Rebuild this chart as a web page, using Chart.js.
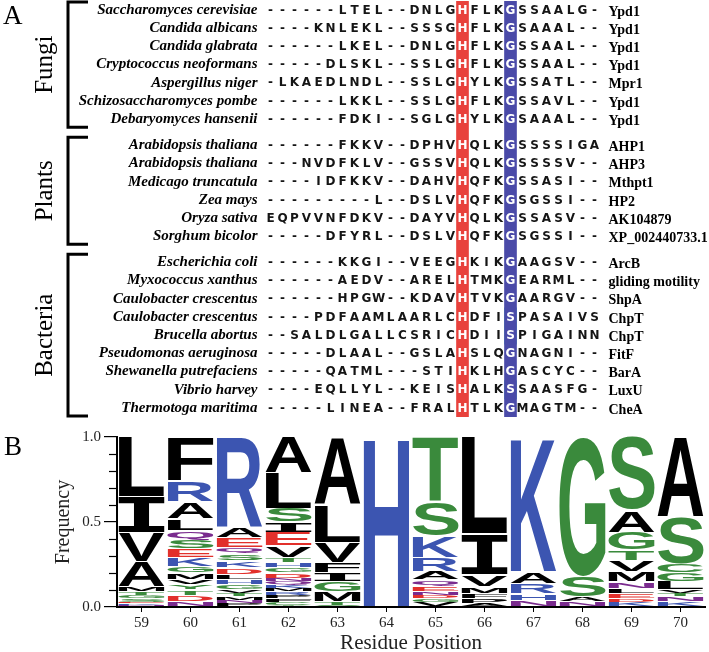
<!DOCTYPE html>
<html>
<head>
<meta charset="utf-8">
<script src="https://cdn.jsdelivr.net/npm/chart.js@4.4.1/dist/chart.umd.min.js"></script>
<style>
  html, body { margin: 0; padding: 0; background: #fff; }
  canvas { display: block; }
</style>
</head>
<body>
<canvas id="alignment" width="709" height="425"></canvas>
<canvas id="logo" width="709" height="227"></canvas>
<script>
// panel A - alignment
var species = [
    'Saccharomyces cerevisiae', 'Candida albicans', 'Candida glabrata', 'Cryptococcus neoformans',
    'Aspergillus niger', 'Schizosaccharomyces pombe', 'Debaryomyces hansenii',
    'Arabidopsis thaliana', 'Arabidopsis thaliana', 'Medicago truncatula', 'Zea mays',
    'Oryza sativa', 'Sorghum bicolor',
    'Escherichia coli', 'Myxococcus xanthus', 'Caulobacter crescentus', 'Caulobacter crescentus',
    'Brucella abortus', 'Pseudomonas aeruginosa', 'Shewanella putrefaciens', 'Vibrio harvey',
    'Thermotoga maritima'
];
var groupNames = ['Fungi', 'Plants', 'Bacteria'];
var groupSizes = [7, 6, 9];
var sequences = [
    '------LTEL--DNLGHFLKGSSAALG-',
    '----KNLEKL--SSSGHFLKGSAAAL--',
    '------LKEL--DNLGHFLKGSSAAL--',
    '-----DLSKL--SSLGHFLKGSSAAL--',
    '-LKAEDLNDL--SSLGHYLKGSSATL--',
    '------LKKL--SSLGHFLKGSSAVL--',
    '------FDKI--SGLGHYLKGSAAAL--',
    '------FKKV--DPHVHQLKGSSSSIGA',
    '---NVDFKLV--GSSVHQLKGSSSSV--',
    '----IDFKKV--DAHVHQFKGSSASI--',
    '---------L--DSLVHQFKGSGSSI--',
    'EQPVVNFDKV--DAYVHQLKGSSASV--',
    '-----DFYRL--DSLVHQFKGSGSSI--',
    '------KKGI--VEEGHKIKGAAGSV--',
    '------AEDV--ARELHTMKGEARML--',
    '------HPGW--KDAVHTVKGAARGV--',
    '----PDFAAMLAARLCHDFISPASAIVS',
    '--SALDLGALLCSRICHDIISPIGAINN',
    '-----DLAAL--GSLAHSLQGNAGNI--',
    '-----QATML---STIHKLHGASCYC--',
    '----EQLLYL--KEISHALKSSAASFG-',
    '-----LINEA--FRALHTLKGMAGTM--'
];
var proteins = [
    'Ypd1', 'Ypd1', 'Ypd1', 'Ypd1', 'Mpr1', 'Ypd1', 'Ypd1',
    'AHP1', 'AHP3', 'Mthpt1', 'HP2', 'AK104879', 'XP_002440733.1',
    'ArcB', 'gliding motility', 'ShpA', 'ChpT', 'ChpT', 'FitF', 'BarA', 'LuxU', 'CheA'
];

// panel B - sequence logo (letters listed top to bottom)
var positions = ['59', '60', '61', '62', '63', '64', '65', '66', '67', '68', '69', '70'];
var logoLetters = [
    'LIVAMTGSEKN',
    'FRALQSEKGMVYTDN',
    'RAEQSKDLHGVTMNP',
    'ALSIEVTHGDNQKMRPFCY',
    'ALVFIGMTS',
    'H',
    'TSKRAQENDGV',
    'LIVMFPA',
    'KARHN',
    'GSAN',
    'SAGTVMNLEDK',
    'ASCGLVTNK'
];
var logoFreqs = [
    [0.35, 0.21, 0.17, 0.15, 0.03, 0.02, 0.02, 0.02, 0.01, 0.01, 0.01],
    [0.26, 0.12, 0.10, 0.07, 0.06, 0.05, 0.05, 0.05, 0.04, 0.04, 0.03, 0.03, 0.03, 0.04, 0.03],
    [0.53, 0.06, 0.06, 0.04, 0.04, 0.04, 0.04, 0.03, 0.03, 0.03, 0.02, 0.02, 0.02, 0.02, 0.02],
    [0.21, 0.21, 0.08, 0.06, 0.08, 0.07, 0.03, 0.03, 0.03, 0.03, 0.02, 0.02, 0.02, 0.02, 0.02, 0.02, 0.02, 0.02, 0.01],
    [0.40, 0.22, 0.12, 0.06, 0.05, 0.06, 0.06, 0.02, 0.01],
    [1.00],
    [0.38, 0.20, 0.13, 0.08, 0.05, 0.04, 0.03, 0.02, 0.02, 0.02, 0.03],
    [0.57, 0.24, 0.07, 0.04, 0.03, 0.03, 0.02],
    [0.79, 0.07, 0.06, 0.04, 0.04],
    [0.82, 0.12, 0.03, 0.03],
    [0.43, 0.13, 0.105, 0.06, 0.065, 0.06, 0.04, 0.03, 0.03, 0.02, 0.03],
    [0.47, 0.28, 0.05, 0.05, 0.05, 0.02, 0.02, 0.03, 0.03]
];

function residueColor(ch) {
    if ('GSTYC'.indexOf(ch) >= 0) return '#3a8a3c';
    if ('NQ'.indexOf(ch) >= 0) return '#7a2b8e';
    if ('KRH'.indexOf(ch) >= 0) return '#3c55b1';
    if ('DE'.indexOf(ch) >= 0) return '#e2302b';
    return '#000000';
}

// ---------- alignment chart ----------
var GAP = 0.43;
var rowGroup = [];
groupSizes.forEach(function (n, g) { for (var i = 0; i < n; i++) rowGroup.push(g); });
var rowY = rowGroup.map(function (g, i) { return i + g * GAP; });
var nCols = sequences[0].length;
var colLabels = [];
for (var c = 0; c < nCols; c++) colLabels.push(String(c));

function allIn(col, set) {
    return sequences.every(function (s) { return set.indexOf(s[col]) >= 0; });
}
var hisCol = colLabels.findIndex(function (l, c) { return allIn(c, 'H'); });
var accCol = colLabels.findIndex(function (l, c) { return allIn(c, 'GS'); });
var yMin = -0.5, yMax = rowY[rowY.length - 1] + 0.5;

var alignSets = [
    { data: colLabels.map(function (l, c) { return c === hisCol ? [yMin, yMax] : null; }), backgroundColor: '#e8413c' },
    { data: colLabels.map(function (l, c) { return c === accCol ? [yMin, yMax] : null; }), backgroundColor: '#4a4aa8' }
];
sequences.forEach(function (s, r) {
    if (s[accCol] === 'S') {
        alignSets.push({
            data: colLabels.map(function (l, c) { return c === accCol ? [rowY[r] - 0.5, rowY[r] + 0.5] : null; }),
            backgroundColor: '#3cb8ba'
        });
    }
});

var alignText = {
    id: 'alignText',
    afterDatasetsDraw: function (chart) {
        var ctx = chart.ctx, xs = chart.scales.x, ys = chart.scales.y, area = chart.chartArea;
        ctx.save();
        ctx.textBaseline = 'middle';
        sequences.forEach(function (seq, r) {
            var y = ys.getPixelForValue(rowY[r]);
            ctx.font = 'bold 12px "DejaVu Sans"';
            ctx.textAlign = 'center';
            for (var c = 0; c < seq.length; c++) {
                ctx.fillStyle = (c === hisCol || c === accCol) ? '#ffffff' : '#151515';
                ctx.fillText(seq[c], xs.getPixelForValue(c), y + 0.5);
            }
            ctx.fillStyle = '#000';
            ctx.font = 'italic bold 15px "Liberation Serif"';
            ctx.textAlign = 'right';
            ctx.fillText(species[r], area.left - 7, y);
            ctx.font = 'bold 14px "Liberation Serif"';
            ctx.textAlign = 'left';
            ctx.fillText(proteins[r], area.right + 8, y + 2);
        });

        // group brackets
        var start = 0;
        ctx.lineWidth = 3;
        ctx.strokeStyle = '#000';
        groupSizes.forEach(function (n, g) {
            var top = ys.getPixelForValue(rowY[start]) - 8;
            var bottom = ys.getPixelForValue(rowY[start + n - 1]) + 8;
            ctx.beginPath();
            ctx.moveTo(88, top);
            ctx.lineTo(68, top);
            ctx.lineTo(68, bottom);
            ctx.lineTo(88, bottom);
            ctx.stroke();
            ctx.save();
            ctx.translate(45, (top + bottom) / 2);
            ctx.rotate(-Math.PI / 2);
            ctx.textAlign = 'center';
            ctx.textBaseline = 'middle';
            ctx.font = '25px "Liberation Serif"';
            ctx.fillText(groupNames[g], 0, 0);
            ctx.restore();
            start += n;
        });

        ctx.textAlign = 'left';
        ctx.textBaseline = 'alphabetic';
        ctx.font = '27px "Liberation Serif"';
        ctx.fillText('A', 3, 24);
        ctx.restore();
    }
};

new Chart(document.getElementById('alignment'), {
    type: 'bar',
    data: { labels: colLabels, datasets: alignSets },
    options: {
        responsive: false,
        animation: false,
        events: [],
        layout: { padding: { left: 264.5, right: 108.5, top: 0.9, bottom: 7.9 } },
        datasets: { bar: { grouped: false, barPercentage: 1, categoryPercentage: 1, borderWidth: 0 } },
        scales: {
            x: { display: false },
            y: { display: false, reverse: true, min: yMin, max: yMax }
        },
        plugins: { legend: { display: false }, tooltip: { enabled: false } }
    },
    plugins: [alignText]
});

// ---------- logo chart ----------
var maxDepth = Math.max.apply(null, logoLetters.map(function (s) { return s.length; }));
var logoSets = [];
for (var r = maxDepth - 1; r >= 0; r--) {
    logoSets.push({
        rank: r,
        data: logoFreqs.map(function (f) { return f[r] || 0; }),
        backgroundColor: 'rgba(0,0,0,0)',
        borderWidth: 0
    });
}

function drawGlyph(ctx, ch, x, y, w, h) {
    ctx.save();
    // serif I so it doesn't turn into a plain block when stretched
    ctx.font = ch === 'I' ? 'bold 100px "DejaVu Sans Mono"' : 'bold 100px "Liberation Sans"';
    var m = ctx.measureText(ch);
    var iw = m.actualBoundingBoxLeft + m.actualBoundingBoxRight;
    var ih = m.actualBoundingBoxAscent + m.actualBoundingBoxDescent;
    var pad = Math.min(0.6, h * 0.1);
    ctx.translate(x, y + pad);
    ctx.scale(w / iw, (h - 2 * pad) / ih);
    ctx.fillStyle = residueColor(ch);
    ctx.textAlign = 'left';
    ctx.textBaseline = 'alphabetic';
    ctx.fillText(ch, m.actualBoundingBoxLeft, m.actualBoundingBoxAscent);
    ctx.restore();
}

var glyphs = {
    id: 'glyphs',
    afterDatasetsDraw: function (chart) {
        var ctx = chart.ctx;
        chart.data.datasets.forEach(function (ds, di) {
            chart.getDatasetMeta(di).data.forEach(function (bar, c) {
                var ch = logoLetters[c][ds.rank];
                if (!ch) return;
                var p = bar.getProps(['x', 'y', 'base', 'width'], true);
                var h = Math.abs(p.base - p.y);
                if (h < 0.6) return;
                drawGlyph(ctx, ch, p.x - p.width / 2, Math.min(p.y, p.base), p.width, h);
            });
        });
    },
    afterDraw: function (chart) {
        var ctx = chart.ctx, ys = chart.scales.y, left = chart.chartArea.left;
        ctx.save();
        ctx.strokeStyle = '#000';
        ctx.lineWidth = 1.2;
        for (var i = 1; i < 10; i++) {
            if (i === 5) continue;
            var y = Math.round(ys.getPixelForValue(i / 10)) + 0.5;
            ctx.beginPath();
            ctx.moveTo(left - 8, y);
            ctx.lineTo(left, y);
            ctx.stroke();
        }
        ctx.fillStyle = '#000';
        ctx.font = '27px "Liberation Serif"';
        ctx.fillText('B', 4, 30);
        ctx.restore();
    }
};

new Chart(document.getElementById('logo'), {
    type: 'bar',
    data: { labels: positions, datasets: logoSets },
    options: {
        responsive: false,
        animation: false,
        events: [],
        layout: { padding: { left: 48, right: 4, top: 12, bottom: 0 } },
        datasets: { bar: { barPercentage: 0.94, categoryPercentage: 1 } },
        scales: {
            x: {
                stacked: true,
                grid: { drawOnChartArea: false, offset: false, tickLength: 5, color: '#000' },
                border: { color: '#000', width: 2 },
                ticks: { color: '#222', font: { family: 'Liberation Serif', size: 15 }, padding: 2 },
                title: { display: true, text: 'Residue Position', color: '#222', padding: { top: 0, bottom: -4 }, font: { family: 'Liberation Serif', size: 21 } },
                afterFit: function (scale) { scale.height = 45; }
            },
            y: {
                stacked: true,
                min: 0,
                max: 1,
                grid: { drawOnChartArea: false, tickLength: 13, color: '#000', lineWidth: 1.2 },
                border: { color: '#000', width: 2 },
                ticks: {
                    stepSize: 0.5,
                    color: '#222',
                    font: { family: 'Liberation Serif', size: 15 },
                    callback: function (v) { return v.toFixed(1); }
                },
                title: { display: true, text: 'Frequency', color: '#222', font: { family: 'Liberation Serif', size: 20 } },
                afterFit: function (scale) { scale.width = 69; }
            }
        },
        plugins: { legend: { display: false }, tooltip: { enabled: false } }
    },
    plugins: [glyphs]
});
</script>
</body>
</html>
